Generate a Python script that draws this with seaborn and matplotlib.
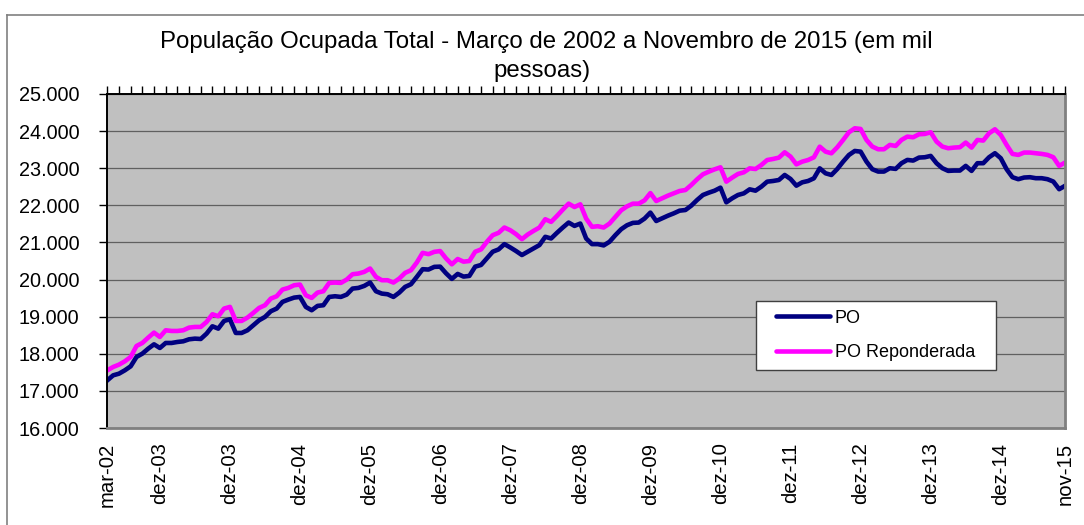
import pandas as pd
import numpy as np
import matplotlib
matplotlib.use("Agg")
import matplotlib.pyplot as plt
from matplotlib.lines import Line2D
from matplotlib.patches import Rectangle
import seaborn as sns

#CONFIGURAÇÃO
ARQUIVO_SAIDA = "out.png"

plt.rcParams['font.family'] = ['Liberation Sans', 'DejaVu Sans']

#DADOS (mil pessoas), mar-02 a nov-15
abrev = ['jan', 'fev', 'mar', 'abr', 'mai', 'jun', 'jul', 'ago', 'set', 'out', 'nov', 'dez']
meses = [f"{abrev[m - 1]}-{a % 100:02d}"
         for a in range(2002, 2016) for m in range(1, 13)
         if (a, m) >= (2002, 3) and (a, m) <= (2015, 11)]

po = [
    17284, 17419, 17464, 17554, 17662, 17914, 18004, 18138, 18255, 18156,
    18291, 18291, 18318, 18336, 18390, 18408, 18399, 18543, 18741, 18678,
    18885, 18930, 18561, 18561, 18633, 18768, 18903, 18993, 19146, 19218,
    19398, 19460, 19514, 19532, 19262, 19173, 19290, 19308, 19532, 19550,
    19532, 19595, 19757, 19775, 19829, 19919, 19685, 19622, 19604, 19532,
    19649, 19802, 19874, 20072, 20279, 20270, 20342,
    20348, 20170, 20018, 20152, 20080, 20098, 20348, 20393, 20571, 20750,
    20812, 20955, 20866, 20768, 20661, 20750, 20839, 20929, 21152, 21107,
    21259, 21402, 21536, 21446, 21509, 21107, 20955, 20955, 20920, 21018,
    21196, 21357, 21464, 21527, 21536, 21643, 21804,
    21578, 21650, 21721, 21784, 21856, 21874, 21991, 22144, 22279, 22341,
    22395, 22476, 22081, 22189, 22279, 22323, 22431, 22395, 22503, 22638,
    22656, 22683, 22818, 22710, 22530, 22620, 22656, 22728, 22997, 22863,
    22818, 22979, 23177, 23357, 23465, 23447,
    23179, 22973, 22910, 22910, 23000, 22982, 23135, 23224, 23206, 23287,
    23296, 23332, 23135, 23000, 22928, 22937, 22937, 23063, 22928, 23135,
    23135, 23296, 23404, 23269, 22973, 22758, 22704, 22749, 22758, 22731,
    22731, 22704, 22641, 22435, 22525,
]

po_reponderada = [
    17554, 17644, 17707, 17797, 17914, 18210, 18291, 18435, 18570, 18453,
    18633, 18615, 18615, 18633, 18705, 18723, 18723, 18858, 19065, 19011,
    19218, 19263, 18885, 18885, 18975, 19101, 19236, 19308, 19487, 19550,
    19730, 19775, 19847, 19865, 19577, 19505, 19649, 19685, 19910, 19919,
    19910, 20000, 20144, 20162, 20207, 20297, 20072, 19982, 19982, 19919,
    20027, 20180, 20252, 20459, 20720, 20684, 20747,
    20768, 20571, 20411, 20554, 20482, 20500, 20750, 20812, 21018, 21196,
    21259, 21402, 21330, 21223, 21089, 21214, 21312, 21402, 21625, 21554,
    21714, 21884, 22045, 21955, 22027, 21643, 21420, 21437, 21402, 21509,
    21688, 21866, 21973, 22045, 22045, 22134, 22330,
    22117, 22189, 22261, 22323, 22386, 22413, 22548, 22701, 22836, 22907,
    22970, 23024, 22638, 22746, 22845, 22890, 22997, 22979, 23087, 23221,
    23249, 23285, 23429, 23312, 23105, 23177, 23221, 23294, 23581, 23447,
    23402, 23564, 23761, 23968, 24076, 24058,
    23762, 23583, 23511, 23511, 23628, 23601, 23762, 23852, 23834, 23915,
    23924, 23969, 23718, 23583, 23538, 23556, 23565, 23691, 23556, 23762,
    23745, 23942, 24049, 23897, 23628, 23386, 23359, 23422, 23422, 23404,
    23386, 23359, 23296, 23063, 23152,
]

# rótulos do eixo x (o original repete "dez-03")
rotulos_x = ['mar-02', 'dez-03', 'dez-03', 'dez-04', 'dez-05', 'dez-06', 'dez-07',
             'dez-08', 'dez-09', 'dez-10', 'dez-11', 'dez-12', 'dez-13', 'dez-14', 'nov-15']
meses_rotulo = ['mar-02', 'dez-02', 'dez-03', 'dez-04', 'dez-05', 'dez-06', 'dez-07',
                'dez-08', 'dez-09', 'dez-10', 'dez-11', 'dez-12', 'dez-13', 'dez-14', 'nov-15']

titulo = ["População Ocupada Total - Março de 2002 a Novembro de 2015 (em mil", "pessoas)"]

#MONTAR DATAFRAME
df = pd.DataFrame({'mes': meses, 'PO': po, 'PO Reponderada': po_reponderada})
df['idx'] = np.arange(len(df))
df_long = df.melt(id_vars=['mes', 'idx'], var_name='serie', value_name='valor')

#GRÁFICO
fig = plt.figure(figsize=(10.84, 5.25), dpi=100)
W, H = 1084, 525
ax = fig.add_axes([107.3 / W, 1 - 428 / H, (1065 - 107.3) / W, (428 - 94) / H])
ax.set_facecolor('#C0C0C0')

sns.lineplot(
    data=df_long, x='idx', y='valor', hue='serie',
    palette={'PO': '#000080', 'PO Reponderada': '#FF00FF'},
    linewidth=3.3, ax=ax, legend=False
)

ax.set_xlim(0, len(meses) - 1)
ax.set_ylim(16000, 25000)
ax.set_xlabel("")
ax.set_ylabel("")

# eixo y
yt = np.arange(16000, 25001, 1000)
ax.set_yticks(yt)
ax.set_yticklabels([f"{v:,.0f}".replace(",", ".") for v in yt], fontsize=14.3)
ax.tick_params(axis='y', length=6, width=1, direction='out', pad=14)
ax.yaxis.grid(True, color='#606060', linewidth=0.9)
ax.set_axisbelow(True)

# eixo x: rótulos embaixo, marcas pequenas em cima a cada 2 meses
pos_rot = [meses.index(m) for m in meses_rotulo]
ax.set_xticks(pos_rot)
ax.set_xticklabels(rotulos_x, rotation=90, fontsize=14.6)
ax.set_xticks(np.arange(0, len(meses), 2), minor=True)
ax.xaxis.remove_overlapping_locs = False
ax.tick_params(axis='x', which='major', length=0, pad=10.5)
ax.tick_params(axis='x', which='minor', bottom=False, top=True, length=6, width=1, direction='out')

for lado in ['left', 'top']:
    ax.spines[lado].set_color('black')
    ax.spines[lado].set_linewidth(1.4)
for lado in ['right', 'bottom']:
    ax.spines[lado].set_color('#808080')
    ax.spines[lado].set_linewidth(2)

# legenda com caixa branca
ax.add_patch(Rectangle((0.677, 0.174), 0.251, 0.207, transform=ax.transAxes,
                       facecolor='white', edgecolor='#404040', linewidth=1, zorder=4))
handles = [Line2D([], [], color='#000080', linewidth=3.3, solid_capstyle='round'),
           Line2D([], [], color='#FF00FF', linewidth=3.3, solid_capstyle='round')]
leg = ax.legend(handles, ['PO', 'PO Reponderada'], loc='center left',
                bbox_to_anchor=(0.698, 0.2775), frameon=False, fontsize=13,
                handlelength=3.0, handletextpad=0.28, labelspacing=0.95, borderpad=0,
                borderaxespad=0)
leg.set_zorder(6)

# título (duas linhas, quebra como no original)
fig.text(546 / W, 1 - 48.3 / H, titulo[0], ha='center', va='baseline', fontsize=17.3)
fig.text(542 / W, 1 - 76.7 / H, titulo[1], ha='center', va='baseline', fontsize=17.3)

# borda da área do gráfico
fig.add_artist(Line2D([7 / W, 1], [1 - 14.7 / H, 1 - 14.7 / H], transform=fig.transFigure,
                      color='#808080', linewidth=1.2))
fig.add_artist(Line2D([7 / W, 7 / W], [0, 1 - 14.7 / H], transform=fig.transFigure,
                      color='#808080', linewidth=1.2))

fig.savefig(ARQUIVO_SAIDA, dpi=100, facecolor='white')
print(f"Gráfico salvo como: {ARQUIVO_SAIDA}")
